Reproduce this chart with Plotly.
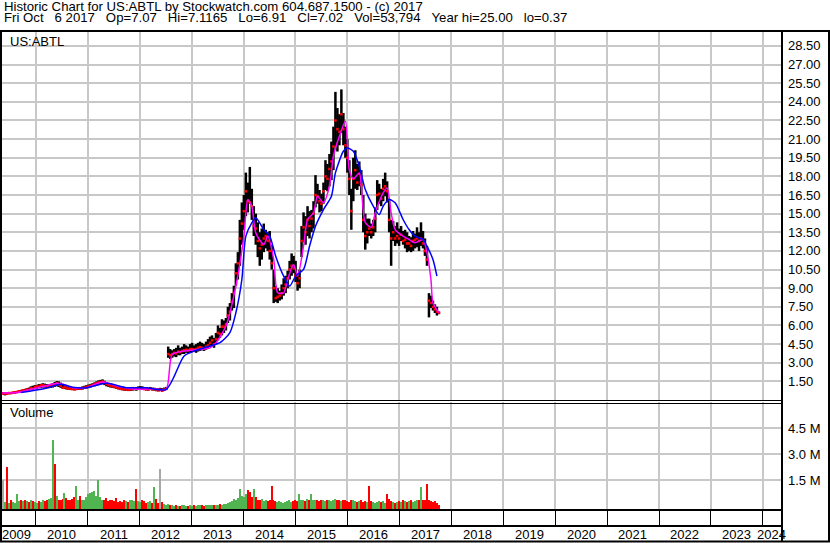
import pandas as pd
import plotly.graph_objects as go

# two-week bars, first one on this date
first_bar = "2009-05-01"

price_low = [
    0.45, 0.45, 0.37, 0.44, 0.46, 0.48, 0.50, 0.52, 0.55, 0.58,
    0.60, 0.62, 0.68, 0.70, 0.75, 0.80, 0.85, 0.88, 0.90, 0.95,
    0.95, 1.00, 1.00, 0.98, 0.95, 0.98, 1.00, 1.05, 1.10, 1.05,
    0.98, 0.92, 0.88, 0.85, 0.82, 0.80, 0.80, 0.78, 0.80, 0.82,
    0.82, 0.85, 0.88, 0.92, 0.95, 1.00, 1.05, 1.10, 1.15, 1.20,
    1.25, 1.28, 1.20, 1.10, 1.05, 1.00, 0.98, 0.95, 0.90, 0.85,
    0.80, 0.78, 0.75, 0.75, 0.72, 0.72, 0.75, 0.78, 0.75, 0.80,
    0.80, 0.82, 0.80, 0.78, 0.75, 0.80, 0.78, 0.75, 0.72, 0.70,
    0.72, 0.70, 0.72, 0.80, 3.40, 3.30, 3.40, 3.50, 3.45, 3.60,
    3.60, 3.70, 3.70, 3.80, 3.75, 3.80, 3.85, 3.90, 3.80, 3.90,
    3.95, 4.00, 3.95, 4.05, 4.10, 4.30, 4.40, 4.20, 4.50, 4.80,
    5.00, 5.20, 5.40, 5.60, 6.20, 6.40, 7.20, 7.40, 9.20, 9.70,
    10.80, 12.50, 13.70, 14.80, 15.10, 15.80, 14.50, 13.20, 12.50, 11.50,
    10.80, 11.30, 11.90, 12.20, 12.00, 11.30, 10.50, 7.80, 7.90, 7.80,
    8.00, 8.10, 8.40, 8.60, 9.00, 9.70, 10.00, 10.20, 9.50, 8.80,
    9.00, 11.50, 12.70, 12.50, 13.20, 13.00, 13.50, 13.80, 15.50, 15.80,
    15.10, 15.20, 15.80, 16.90, 16.80, 17.20, 17.70, 18.50, 20.40, 20.00,
    20.50, 21.50, 20.50, 19.50, 18.30, 16.50, 13.70, 16.00, 17.00, 16.90,
    17.20, 16.50, 13.50, 12.10, 12.60, 13.20, 13.00, 13.20, 13.50, 15.30,
    15.80, 15.60, 16.00, 16.40, 15.90, 13.50, 10.80, 12.80, 12.40, 12.60,
    12.40, 12.80, 12.50, 12.20, 11.90, 12.00, 11.90, 12.00, 12.20, 12.30,
    12.00, 12.40, 12.20, 11.60, 10.80, 6.65, 7.40, 7.20, 7.00, 6.80,
    6.91,
]

price_high = [
    0.62, 0.60, 0.58, 0.60, 0.62, 0.65, 0.66, 0.70, 0.72, 0.78,
    0.82, 0.85, 0.90, 0.95, 1.00, 1.10, 1.15, 1.20, 1.22, 1.28,
    1.30, 1.35, 1.32, 1.28, 1.25, 1.30, 1.35, 1.45, 1.52, 1.50,
    1.40, 1.30, 1.22, 1.15, 1.08, 1.05, 1.02, 1.00, 1.02, 1.05,
    1.05, 1.10, 1.15, 1.20, 1.25, 1.30, 1.35, 1.42, 1.50, 1.58,
    1.62, 1.66, 1.55, 1.45, 1.38, 1.32, 1.28, 1.22, 1.15, 1.08,
    1.05, 1.02, 1.00, 0.98, 0.98, 1.00, 1.05, 1.05, 1.05, 1.10,
    1.12, 1.10, 1.05, 1.02, 1.00, 1.05, 1.00, 0.98, 0.95, 0.95,
    0.98, 0.95, 1.00, 1.05, 4.30, 4.10, 4.00, 4.10, 4.20, 4.40,
    4.20, 4.30, 4.50, 4.40, 4.30, 4.50, 4.60, 4.40, 4.50, 4.60,
    4.70, 4.60, 4.50, 4.70, 4.90, 5.10, 5.20, 5.00, 5.40, 6.00,
    5.80, 6.50, 6.40, 6.60, 7.50, 7.80, 8.60, 9.20, 11.00, 11.90,
    14.50, 15.90, 16.50, 18.30, 17.50, 18.76, 17.00, 15.60, 15.00, 14.30,
    13.50, 13.80, 14.20, 13.70, 13.50, 13.60, 12.50, 10.50, 9.20, 9.00,
    8.80, 9.30, 9.80, 10.00, 10.40, 11.20, 11.80, 11.60, 11.20, 10.20,
    10.50, 14.00, 15.10, 14.80, 15.60, 15.20, 15.30, 16.00, 18.10, 17.40,
    16.90, 16.60, 17.50, 19.30, 19.00, 19.80, 20.80, 22.00, 24.80, 23.50,
    23.00, 25.00, 23.10, 22.00, 21.00, 19.30, 17.00, 19.50, 20.10, 19.00,
    19.20, 18.50, 16.50, 15.00, 14.60, 14.60, 14.20, 14.50, 15.50, 17.70,
    17.40, 17.00, 17.80, 18.30, 17.60, 16.20, 14.50, 14.40, 14.00, 14.30,
    13.80, 14.00, 13.60, 13.70, 13.50, 13.20, 13.10, 13.60, 13.40, 13.90,
    13.50, 14.30, 13.60, 13.00, 12.40, 8.60, 8.40, 8.00, 7.70, 7.50,
    7.12,
]

price_close = [
    0.55, 0.52, 0.52, 0.50, 0.56, 0.55, 0.60, 0.62, 0.65, 0.70,
    0.68, 0.78, 0.76, 0.85, 0.82, 0.95, 0.92, 1.05, 1.10, 1.08,
    1.18, 1.20, 1.15, 1.10, 1.12, 1.15, 1.22, 1.18, 1.35, 1.25,
    1.15, 0.98, 1.02, 0.95, 0.92, 0.90, 0.88, 0.86, 0.90, 0.92,
    0.90, 0.95, 1.00, 1.05, 1.10, 1.15, 1.20, 1.28, 1.35, 1.42,
    1.45, 1.48, 1.38, 1.28, 1.20, 1.15, 1.10, 1.05, 1.00, 0.95,
    0.90, 0.88, 0.85, 0.85, 0.82, 0.85, 0.88, 0.92, 0.88, 0.95,
    0.95, 0.92, 0.88, 0.85, 0.85, 0.90, 0.85, 0.88, 0.80, 0.78,
    0.80, 0.75, 0.85, 0.90, 3.70, 3.60, 3.70, 3.80, 3.75, 3.90,
    3.85, 3.95, 4.00, 4.05, 4.00, 4.10, 4.10, 4.05, 4.10, 4.20,
    4.25, 4.20, 4.15, 4.30, 4.40, 4.60, 4.80, 4.50, 4.90, 5.40,
    5.30, 5.90, 5.90, 6.10, 6.80, 7.10, 7.90, 8.60, 10.20, 11.00,
    13.00, 14.20, 15.20, 16.80, 16.00, 15.90, 15.60, 14.00, 13.80, 12.80,
    12.20, 12.50, 13.00, 13.20, 12.80, 12.00, 11.00, 9.00, 8.20, 8.30,
    8.40, 8.60, 9.00, 9.30, 9.80, 10.50, 10.80, 10.60, 10.00, 9.40,
    9.80, 12.80, 13.90, 13.50, 14.50, 14.00, 14.60, 15.00, 16.50, 16.40,
    16.00, 15.80, 16.80, 18.00, 17.80, 18.60, 19.20, 20.40, 22.50, 21.80,
    21.60, 23.00, 21.80, 20.50, 19.50, 17.80, 15.20, 17.80, 18.50, 17.50,
    18.20, 17.30, 14.50, 13.20, 13.50, 13.80, 13.50, 13.90, 14.60, 16.50,
    16.60, 16.20, 17.00, 17.20, 16.80, 14.50, 13.00, 13.50, 13.00, 13.20,
    13.00, 13.30, 12.80, 12.90, 12.60, 12.60, 12.40, 12.80, 12.90, 13.00,
    12.80, 13.00, 12.60, 12.00, 11.30, 8.00, 7.80, 7.50, 7.30, 7.10,
    7.02,
]

# volume in millions of shares
volume_m = [
    0.30, 1.50, 0.25, 2.30, 0.20, 0.35, 0.25, 0.20, 0.75, 0.30,
    0.35, 0.30, 0.40, 0.30, 0.25, 0.35, 0.30, 0.25, 0.20, 0.30,
    0.25, 0.35, 0.30, 0.40, 0.45, 0.50, 3.85, 2.45, 0.60, 0.40,
    0.35, 0.45, 0.80, 0.50, 0.40, 0.35, 0.45, 0.55, 1.20, 0.40,
    0.60, 0.35, 0.40, 0.55, 0.70, 0.80, 0.85, 0.90, 0.60, 1.50,
    0.55, 0.40, 0.35, 0.50, 0.30, 0.35, 0.40, 0.30, 0.50, 0.25,
    0.30, 0.25, 0.35, 0.30, 0.25, 0.40, 0.35, 0.30, 1.00, 0.30,
    0.25, 0.35, 0.30, 0.20, 0.25, 0.30, 0.20, 1.10, 0.42, 0.20,
    2.19, 0.25, 0.15, 0.10, 0.12, 0.08, 0.06, 0.05, 0.06, 0.05,
    0.05, 0.06, 0.08, 0.05, 0.04, 0.06, 0.05, 0.07, 0.05, 0.06,
    0.08, 0.06, 0.05, 0.07, 0.06, 0.08, 0.10, 0.08, 0.07, 0.10,
    0.12, 0.10, 0.15, 0.12, 0.20, 0.25, 0.30, 0.42, 0.35, 0.50,
    1.00, 0.60, 0.55, 0.70, 0.96, 0.86, 0.55, 1.00, 0.55, 0.40,
    0.35, 0.45, 0.30, 0.35, 0.30, 0.40, 1.17, 0.35, 0.30, 0.25,
    0.30, 0.25, 0.20, 0.25, 0.30, 0.35, 0.25, 0.30, 0.35, 0.30,
    0.75, 0.40, 0.35, 0.30, 0.45, 0.35, 0.75, 0.40, 0.35, 0.40,
    0.30, 0.35, 0.40, 0.30, 0.35, 0.40, 0.30, 0.35, 0.45, 0.40,
    0.35, 0.30, 0.40, 0.35, 0.30, 0.25, 0.40, 0.35, 0.30, 0.25,
    0.30, 0.35, 0.25, 0.30, 0.25, 1.20, 0.30, 0.25, 0.20, 0.25,
    0.30, 0.25, 0.30, 0.20, 0.70, 0.45, 0.30, 0.25, 0.20, 0.25,
    0.30, 0.25, 0.35, 0.30, 0.25, 0.30, 0.35, 0.25, 0.30, 0.40,
    0.35, 1.10, 0.40, 0.35, 1.30, 0.40, 0.30, 0.25, 0.30, 0.20,
    0.10,
]
# bars whose colour differs from the close-to-close rule
volume_colour_fix = {1: "gray", 3: "red", 8: "green", 26: "green", 27: "red",
                     32: "green", 38: "green", 40: "red", 49: "green", 53: "red",
                     58: "red", 68: "red", 77: "green", 78: "red", 80: "gray",
                     120: "green", 124: "red", 125: "red", 127: "green", 136: "red",
                     150: "green", 156: "green", 185: "red", 194: "red",
                     211: "green", 214: "red"}

# moving averages (bar index, price)
ma_short_idx = [0, 8, 15, 22, 29, 36, 43, 51, 58, 68, 77, 83,
                86, 92, 105, 108, 113, 118, 122, 124, 126, 128, 132, 134, 137,
                139, 142, 144, 147, 149, 152, 154, 157, 159, 162, 165, 167, 170,
                173, 175, 177, 180, 181, 183, 186, 188, 192, 194, 196, 198, 202,
                205, 208, 212, 214, 216, 217, 220]
ma_short = [0.57, 0.60, 0.86, 1.13, 1.34, 0.99, 0.99, 1.45, 1.13, 0.86, 0.91, 0.86,
            3.67, 3.94, 4.21, 4.61, 5.95, 9.17, 13.19, 16.13, 15.60, 13.45, 12.52, 13.19, 11.31,
            8.63, 8.63, 9.70, 10.91, 9.97, 12.38, 14.53, 15.06, 16.40, 15.87, 17.21, 19.62, 21.22,
            22.43, 18.50, 17.80, 18.28, 17.20, 14.30, 13.90, 15.06, 16.67, 17.07, 15.06, 13.72, 13.19,
            12.92, 12.65, 12.92, 11.85, 9.70, 7.83, 7.02]

ma_long_idx = [10, 22, 30, 37, 43, 53, 63, 73, 83,
               92, 97, 105, 110, 115, 118, 121, 123, 126, 128, 132, 135, 138,
               142, 145, 148, 152, 155, 158, 162, 166, 168, 172, 174, 177, 180,
               183, 187, 190, 192, 195, 198, 202, 205, 208, 212, 214, 217, 219]
ma_long = [0.60, 0.92, 1.26, 1.00, 0.99, 1.34, 0.99, 0.99, 0.86,
           3.54, 3.94, 4.34, 4.61, 5.42, 7.02, 9.70, 13.19, 14.26, 14.66, 13.72, 13.19, 11.58,
           9.97, 9.17, 9.97, 10.51, 12.38, 13.99, 15.33, 16.40, 18.28, 20.02, 20.29, 20.02, 18.81,
           16.94, 15.60, 14.93, 15.60, 16.13, 15.87, 14.53, 13.72, 13.19, 12.92, 12.38, 11.31, 9.97]

price_ticks = [1.5, 3.0, 4.5, 6.0, 7.5, 9.0, 10.5, 12.0, 13.5, 15.0, 16.5, 18.0,
               19.5, 21.0, 22.5, 24.0, 25.5, 27.0, 28.5]
volume_ticks = [1.5, 3.0, 4.5]
years = [2009, 2010, 2011, 2012, 2013, 2014, 2015, 2016, 2017, 2018, 2019,
         2020, 2021, 2022, 2023, 2024]

W, H = 830, 543
FONT = "Liberation Sans, Arial, sans-serif"
GRID = "#c8c8c8"
UP, DOWN, FLAT = "#50b450", "#ff0000", "#a8a8a8"


def px_x(x):
    return x / W


def px_y(y):
    return 1 - y / H


dates = pd.date_range(first_bar, periods=len(price_low), freq="14D")

bar_x, bar_y = [], []
for d, lo, hi in zip(dates, price_low, price_high):
    bar_x += [d, d, None]
    bar_y += [lo, hi, None]

colours = []
for i, c in enumerate(price_close):
    if i in volume_colour_fix:
        name = volume_colour_fix[i]
        colours.append({"red": DOWN, "green": UP, "gray": FLAT}[name])
    elif i > 0 and c < price_close[i - 1]:
        colours.append(DOWN)
    else:
        colours.append(UP)

vol_floor = -0.2e6

fig = go.Figure()
fig.add_trace(go.Scatter(x=bar_x, y=bar_y, mode="lines",
                         line=dict(color="black", width=2.5), hoverinfo="skip"))
fig.add_trace(go.Scatter(x=dates, y=price_close, mode="markers",
                         marker=dict(color="red", size=2.5, symbol="square"),
                         hoverinfo="skip"))
fig.add_trace(go.Scatter(x=[dates[i] for i in ma_short_idx], y=ma_short, mode="lines",
                         line=dict(color="#ff00ff", width=1.5, shape="spline", smoothing=0.7)))
fig.add_trace(go.Scatter(x=[dates[i] for i in ma_long_idx], y=ma_long, mode="lines",
                         line=dict(color="#0000ff", width=1.5, shape="spline", smoothing=0.7)))
fig.add_trace(go.Bar(x=dates, y=[v * 1e6 - vol_floor for v in volume_m], base=vol_floor,
                     marker=dict(color=colours, line=dict(width=0)),
                     width=10 * 24 * 3600 * 1000, xaxis="x2", yaxis="y2"))

xcommon = dict(type="date", range=[first_bar, "2024-05-15"], showgrid=True,
               gridcolor=GRID, gridwidth=1.5, dtick="M12", tick0="2010-01-01",
               showticklabels=False, zeroline=False, showline=False, automargin=False,
               domain=[px_x(1), px_x(782)])
fig.update_layout(
    width=W, height=H, margin=dict(l=0, r=0, t=0, b=0, autoexpand=False),
    paper_bgcolor="white", plot_bgcolor="white", showlegend=False,
    bargap=0, font=dict(family=FONT, size=13, color="black"),
    xaxis=dict(xcommon, anchor="y", ticks=""),
    xaxis2=dict(xcommon, anchor="y2", matches="x", ticks="outside", ticklen=16,
                tickwidth=1, tickcolor="black"),
    yaxis=dict(domain=[px_y(400), px_y(31)], range=[0, 29.7], side="right",
               tickvals=price_ticks, ticktext=["%.2f" % v for v in price_ticks],
               ticks="", showgrid=True, gridcolor=GRID, gridwidth=1.5, automargin=False,
               zeroline=False, showline=False, ticklabelstandoff=5,
               tickfont=dict(size=13, color="black")),
    yaxis2=dict(domain=[px_y(510), px_y(402)], range=[vol_floor, 6.02e6], side="right",
                tickvals=[v * 1e6 for v in volume_ticks],
                ticktext=["%.1f M" % v for v in volume_ticks], automargin=False,
                ticks="", showgrid=True, gridcolor=GRID, gridwidth=1.5,
                zeroline=False, showline=False, ticklabelstandoff=5,
                tickfont=dict(size=13, color="black")),
)

# panel borders
borders = [
    (0, 31, W, 31, 2), (1, 31, 1, 542, 2), (829, 31, 829, 542, 2), (0, 541.5, W, 541.5, 2),
    (782, 31, 782, 542, 2), (0, 400.5, 782, 400.5, 1), (0, 403.5, 782, 403.5, 1),
    (0, 510, 782, 510, 2), (0, 526, 782, 526, 2),
]
for x0, y0, x1, y1, w in borders:
    fig.add_shape(type="line", xref="paper", yref="paper",
                  x0=px_x(x0), y0=px_y(y0), x1=px_x(x1), y1=px_y(y1),
                  line=dict(color="black", width=w))

nb = "\u00a0"
line1 = "Historic Chart for US:ABTL by Stockwatch.com 604.687.1500 - (c) 2017"
line2 = ("Fri Oct   6 2017   Op=7.07   Hi=7.1165   Lo=6.91   Cl=7.02   Vol=53,794   "
         "Year hi=25.00   lo=0.37").replace(" ", nb)
for txt, yc in [(line1, 6.5), (line2, 17)]:
    fig.add_annotation(text=txt, xref="paper", yref="paper", x=px_x(2), y=px_y(yc),
                       xanchor="left", yanchor="middle", showarrow=False,
                       font=dict(size=13.2))
fig.add_annotation(text="US:ABTL", xref="paper", yref="paper", x=px_x(8), y=px_y(41),
                   xanchor="left", yanchor="middle", showarrow=False)
fig.add_annotation(text="Volume", xref="paper", yref="paper", x=px_x(8), y=px_y(412),
                   xanchor="left", yanchor="middle", showarrow=False)

for yr in years:
    pos = "%d-07-02" % yr
    if yr == 2009:
        pos = "2009-08-21"
    if yr == 2024:
        pos = "2024-03-01"
    fig.add_annotation(text=str(yr), xref="x2", yref="paper", x=pos, y=px_y(534),
                       xanchor="center", yanchor="middle", showarrow=False)

# the page body has a default margin; drop it so the chart sits at the corner
fig.write_html("out.html", config={"displayModeBar": False},
               post_script="document.body.style.margin = '0';")
